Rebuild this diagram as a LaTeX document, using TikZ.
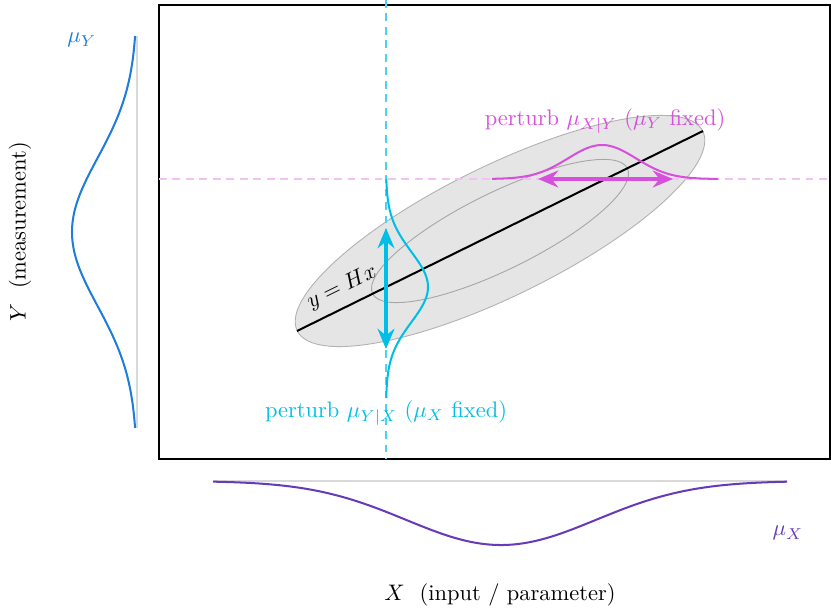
\documentclass[tikz,border=0pt]{standalone}
\usepackage{amsmath,amssymb}
\usepackage{tikz}
\usetikzlibrary{arrows.meta}
\usepackage{xcolor}
\definecolor{margblue}{RGB}{30,125,220}
\definecolor{margpurple}{RGB}{103,58,183}
\definecolor{condcyan}{RGB}{0,190,230}
\definecolor{condmag}{RGB}{214,80,220}

\begin{document}
\begin{tikzpicture}[x=0.01565cm,y=-0.01565cm,
    dens/.style={line width=0.9pt},
    base/.style={gray!30,line width=0.5pt},
    guide/.style={line width=0.5pt,dash pattern=on 3.5pt off 2.5pt},
    pert/.style={line width=1.5pt,{Stealth[length=9pt,width=7.5pt,inset=3pt]}-{Stealth[length=9pt,width=7.5pt,inset=3pt]}}]
  \useasboundingbox (0,0) rectangle (831,607);
  \def\cx{500}\def\cy{231}
  % joint cloud
  \filldraw[fill=gray!20,draw=gray!60,line width=0.4pt,rotate around={26.2:(\cx,\cy)}]
    (\cx,\cy) ellipse (226 and 65);
  \draw[gray!70,line width=0.4pt,rotate around={26.2:(\cx,\cy)}]
    (\cx,\cy) ellipse (142 and 38.5);
  \coordinate (h0) at (297,331);
  \coordinate (h1) at (703,131);
  \draw[line width=0.9pt] (h0) -- (h1);
  \node[rotate=26.2] (lblh) at (342,287) {$y = Hx$};
  % frame
  \draw[line width=0.9pt] (159,5) rectangle (830,459);
  % guides
  \draw[guide,condcyan!70] (386,0) -- (386,459);
  \draw[guide,condmag!35] (159,179) -- (831,179);
  % conditionals
  \draw[dens,condcyan] plot[domain=179:398,samples=90,smooth]
    ({386+42*exp(-((\x-287)/35)^2/2)},\x);
  \draw[dens,condmag] plot[domain=492:718,samples=90,smooth]
    (\x,{179-34*exp(-((\x-602)/34)^2/2)});
  \coordinate (cu) at (386,228);
  \coordinate (cd) at (386,349);
  \draw[pert,condcyan] (cu) -- (cd);
  \coordinate (ml) at (538,179);
  \coordinate (mr) at (673,179);
  \draw[pert,condmag] (ml) -- (mr);
  \node[condmag] (lblpx) at (605,121) {perturb $\mu_{X|Y}$ ($\mu_Y$ fixed)};
  \node[condcyan] (lblpy) at (386,413) {perturb $\mu_{Y|X}$ ($\mu_X$ fixed)};
  % marginals
  \draw[base] (137,36) -- (137,428);
  \draw[dens,margblue] plot[domain=36:428,samples=100,smooth]
    ({137-65*exp(-((\x-232)/74)^2/2)},\x);
  \node[margblue] (lblmuy) at (82,40) {$\mu_Y$};
  \draw[base] (213,481) -- (787,481);
  \draw[dens,margpurple] plot[domain=213:787,samples=100,smooth]
    (\x,{481+64*exp(-((\x-501)/95)^2/2)});
  \node[margpurple] (lblmux) at (788,533) {$\mu_X$};
  % axis names
  \node (lblx) at (500,595) {$X$\ \ (input / parameter)};
  \node[rotate=90] (lbly) at (20,232) {$Y$\ \ (measurement)};
\end{tikzpicture}
\end{document}
